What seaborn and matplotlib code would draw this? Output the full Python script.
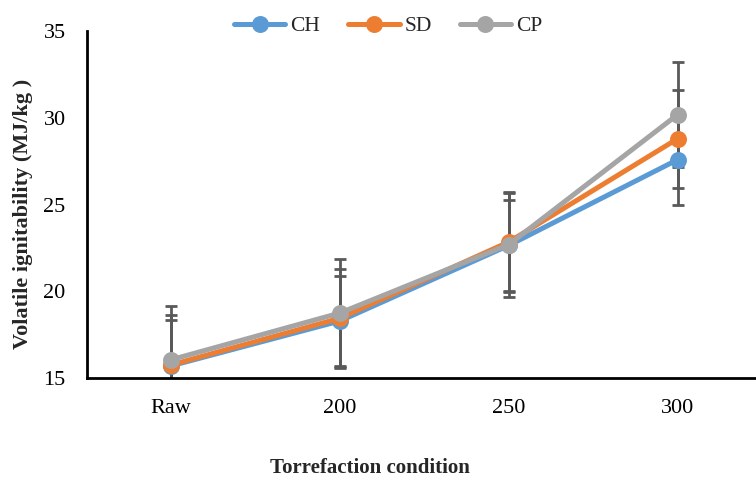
import matplotlib
matplotlib.use("Agg")
import matplotlib.pyplot as plt
import seaborn as sns
import pandas as pd

conditions = ["Raw", "200", "250", "300"]
series = ["CH", "SD", "CP"]
ch_values = [15.70, 18.29, 22.65, 27.60]
sd_values = [15.75, 18.45, 22.85, 28.81]
cp_values = [16.05, 18.75, 22.70, 30.20]
ch_err = [2.64, 2.60, 2.60, 2.59]
sd_err = [2.88, 2.87, 2.90, 2.83]
cp_err = [3.10, 3.09, 3.00, 3.02]
colors = ["#5B9BD5", "#ED7D31", "#A5A5A5"]

sns.set_theme(style="white")
plt.rcParams["font.family"] = ["Liberation Serif", "DejaVu Serif"]

rows = []
for name, vals, errs in zip(series, [ch_values, sd_values, cp_values], [ch_err, sd_err, cp_err]):
    for c, v, e in zip(conditions, vals, errs):
        rows.append({"Condition": c, "Series": name, "Value": v, "Err": e})
df = pd.DataFrame(rows)

fig = plt.figure(figsize=(7.56, 4.8), dpi=100)
ax = fig.add_axes([86.5 / 756, 102 / 480, 675.5 / 756, 346.5 / 480])

# error bars (drawn beneath the lines)
for name in series:
    sub = df[df["Series"] == name]
    ax.errorbar(range(len(conditions)), sub["Value"], yerr=sub["Err"], fmt="none",
                ecolor="#595959", elinewidth=2.0, capsize=4.5, capthick=2.0, zorder=1)

sns.pointplot(data=df, x="Condition", y="Value", hue="Series", order=conditions,
              hue_order=series, palette=colors, markers="o", linestyles="-",
              errorbar=None, markersize=9.5, linewidth=3.6, ax=ax, zorder=3)

handles, labels = ax.get_legend_handles_labels()
if ax.get_legend() is not None:
    ax.get_legend().remove()
fig.legend(handles, labels, loc="center", bbox_to_anchor=(388 / 756, 1 - 26 / 480), ncol=3,
           frameon=False, fontsize=15.5, handlelength=2.4, handletextpad=0.22, columnspacing=1.3,
           borderpad=0.1)

ax.set_ylim(15, 35)
ax.set_yticks([15, 20, 25, 30, 35])
ax.set_xlim(-0.5, 3.5)
ax.set_xticks(range(len(conditions)))
ax.set_xticklabels(conditions)
ax.set_xticks([0.5, 1.5, 2.5], minor=True)
ax.tick_params(axis="x", which="major", length=0, labelsize=16, pad=15, colors="black")
ax.tick_params(axis="x", which="minor", direction="in", length=7, width=1.5, color="black")
ax.tick_params(axis="y", which="major", direction="in", length=5, width=1.5, labelsize=16,
               pad=15, colors="black")
for s in ["top", "right"]:
    ax.spines[s].set_visible(False)
for s in ["left", "bottom"]:
    ax.spines[s].set_color("black")
    ax.spines[s].set_linewidth(2.0)
ax.set_xlabel("")
ax.set_ylabel("")
fig.text(23 / 756, 1 - 214 / 480, "Volatile ignitability (MJ/kg )", rotation=90,
         ha="center", va="center", fontsize=16, fontweight="bold")
fig.text(370 / 756, 1 - 468 / 480, "Torrefaction condition", ha="center", va="center",
         fontsize=15, fontweight="bold")

fig.savefig("out.png", dpi=100)
